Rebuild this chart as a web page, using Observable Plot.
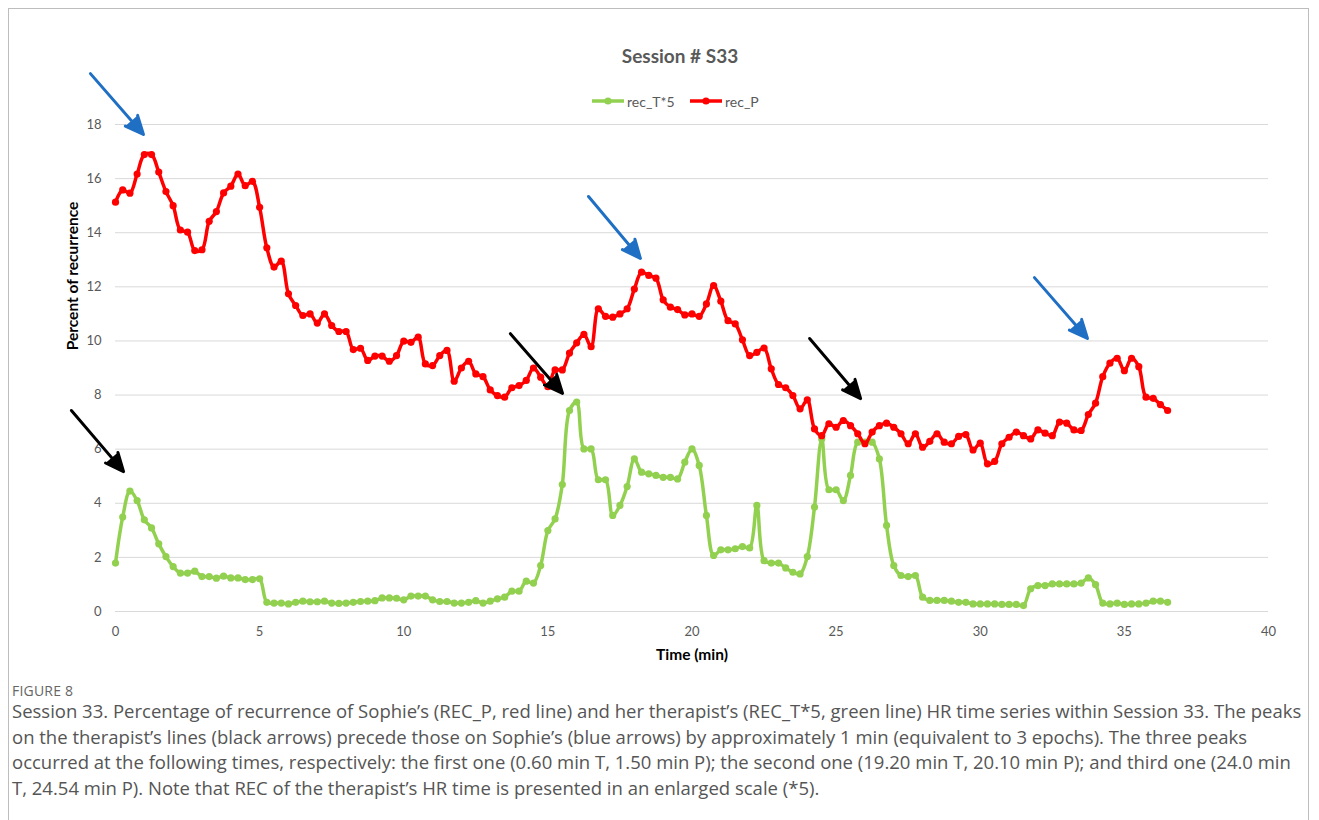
<!DOCTYPE html>
<html>
<head>
<meta charset="utf-8">
<script src="https://cdn.jsdelivr.net/npm/d3@7"></script>
<script src="https://cdn.jsdelivr.net/npm/@observablehq/plot@0.6"></script>
<style>
  body { margin: 0; background: #fff; }
  #wrap { position: relative; width: 1319px; height: 820px; overflow: hidden; background: #fff; font-family: Lato, "Open Sans", sans-serif; }
  #frame { position: absolute; left: 8px; top: 8px; width: 1301px; height: 840px; border: 1px solid #bdbdbd; box-sizing: border-box; }
  #chart { position: absolute; left: 0; top: 0; }
  #title { position: absolute; left: 0; width: 1360px; top: 44px; line-height: 24px; text-align: center; font-weight: bold; font-size: 19px; color: #595959; }
  .leg { position: absolute; top: 93px; height: 16px; display: flex; align-items: center; font-size: 14px; color: #595959; white-space: nowrap; }
  .leg svg { margin-right: 3px; }
  .axt { position: absolute; font-weight: bold; font-size: 15.5px; color: #000; white-space: nowrap; }
  #ylab { left: 72px; top: 276px; transform: translate(-50%, -50%) rotate(-90deg); }
  #xlab { left: 692px; top: 654px; transform: translate(-50%, -50%); }
  #fig { position: absolute; left: 12px; top: 681px; font-family: "Open Sans", sans-serif; font-size: 14px; color: #666; letter-spacing: 0.2px; }
  #cap { position: absolute; left: 12px; top: 698px; font-family: "Open Sans", sans-serif; font-size: 18.5px; line-height: 25.7px; color: #555; white-space: nowrap; }
</style>
</head>
<body>
<div id="wrap">
  <div id="frame"></div>
  <div id="chart"></div>
  <div id="title"></div>
  <div id="legT" class="leg" style="left:592px"></div>
  <div id="legP" class="leg" style="left:690px"></div>
  <div id="ylab" class="axt"></div>
  <div id="xlab" class="axt"></div>
  <div id="fig"></div>
  <div id="cap"></div>
</div>
<script>
// ---- data (epochs of 15 s, i.e. 0.25 min) ----
const epochMinutes = 0.25;
const recP = [15.13,15.58,15.46,16.17,16.89,16.89,16.24,15.52,15.0,14.1,14.02,13.34,13.37,14.42,14.78,15.47,15.72,16.17,15.74,15.9,14.94,13.44,12.73,12.95,11.74,
  11.31,10.94,11.0,10.66,11.0,10.57,10.35,10.35,9.68,9.73,9.28,9.44,9.44,9.25,9.46,9.99,9.95,10.14,9.15,9.09,9.46,9.65,8.51,9.0,
  9.25,8.78,8.68,8.19,7.98,7.92,8.27,8.35,8.54,9.0,8.66,8.31,8.93,8.93,9.55,9.93,10.24,9.79,11.19,10.91,10.88,11.0,11.19,11.92,
  12.54,12.42,12.32,11.52,11.25,11.16,10.96,11.0,10.91,11.37,12.05,11.47,10.75,10.63,10.04,9.46,9.58,9.74,8.97,8.39,8.27,7.98,7.49,7.82,
  6.75,6.5,6.94,6.81,7.06,6.87,6.57,6.2,6.63,6.87,6.96,6.81,6.57,6.2,6.57,6.07,6.29,6.57,6.26,6.2,6.47,6.54,5.97,6.22,
  5.46,5.55,6.2,6.44,6.63,6.5,6.38,6.71,6.59,6.5,7.0,6.96,6.71,6.69,7.28,7.7,8.68,9.18,9.36,8.9,9.36,9.05,7.92,7.88,7.65,7.43];
const recT5 = [1.79,3.49,4.45,4.1,3.39,3.09,2.5,2.03,1.66,1.42,1.42,1.49,1.29,1.29,1.23,1.31,1.24,1.24,1.18,1.18,1.21,0.34,0.31,0.31,0.28,
  0.34,0.38,0.36,0.36,0.38,0.31,0.3,0.31,0.34,0.37,0.38,0.4,0.5,0.5,0.49,0.43,0.57,0.57,0.57,0.43,0.37,0.37,0.31,0.31,
  0.34,0.4,0.31,0.38,0.47,0.53,0.75,0.75,1.12,1.05,1.7,2.99,3.42,4.69,7.43,7.74,6.01,6.01,4.87,4.87,3.55,3.92,4.62,5.64,
  5.15,5.09,5.03,4.96,4.96,4.9,5.52,6.01,5.4,3.55,2.07,2.28,2.28,2.32,2.4,2.35,3.92,1.88,1.79,1.79,1.61,1.45,1.39,2.03,
  3.86,6.38,4.5,4.5,4.1,5.03,6.26,6.26,6.26,5.64,3.18,1.7,1.33,1.29,1.33,0.53,0.41,0.41,0.41,0.38,0.34,0.34,0.28,0.28,
  0.28,0.28,0.26,0.26,0.26,0.22,0.84,0.96,0.96,1.02,1.02,1.02,1.02,1.05,1.24,0.99,0.31,0.28,0.31,0.26,0.28,0.28,0.31,0.38,0.38,0.34];
const xTicks = [0,5,10,15,20,25,30,35,40];
const yTicks = [0,2,4,6,8,10,12,14,16,18];
const seriesNames = ["rec_T*5","rec_P"];
const seriesColors = ["#92D050","#FF0000"];
// annotation arrows (data units: minutes, percent)
const blueArrows = [
  {x1:-0.87,y1:19.88,x2:0.97,y2:17.63},
  {x1:16.41,y1:15.34,x2:18.21,y2:13.05},
  {x1:31.88,y1:12.34,x2:33.72,y2:10.09}
];
const blackArrows = [
  {x1:-1.53,y1:7.43,x2:0.28,y2:5.17},
  {x1:13.70,y1:10.27,x2:15.51,y2:8.06},
  {x1:24.08,y1:10.09,x2:25.85,y2:7.87}
];
const titleText = "Session # S33";
const xLabel = "Time (min)";
const yLabel = "Percent of recurrence";
const figLabel = "FIGURE 8";
const captionLines = [
  "Session 33. Percentage of recurrence of Sophie’s (REC_P, red line) and her therapist’s (REC_T*5, green line) HR time series within Session 33. The peaks",
  "on the therapist’s lines (black arrows) precede those on Sophie’s (blue arrows) by approximately 1 min (equivalent to 3 epochs). The three peaks",
  "occurred at the following times, respectively: the first one (0.60 min T, 1.50 min P); the second one (19.20 min T, 20.10 min P); and third one (24.0 min",
  "T, 24.54 min P). Note that REC of the therapist’s HR time is presented in an enlarged scale (*5)."
];

const tData = recT5.map((v, i) => ({t: i * epochMinutes, v}));
const pData = recP.map((v, i) => ({t: i * epochMinutes, v}));

const arrowOpts = {x1: "x1", y1: "y1", x2: "x2", y2: "y2", strokeWidth: 3, headLength: 10, headAngle: 48, strokeLinejoin: "miter"};

const chart = Plot.plot({
  width: 1319, height: 680,
  marginLeft: 115, marginRight: 51, marginTop: 124, marginBottom: 69,
  x: {domain: [0, 40]},
  y: {domain: [0, 18]},
  style: {fontFamily: "Lato, 'Open Sans', sans-serif", fontSize: "13px", color: "#595959", background: "transparent", overflow: "visible"},
  marks: [
    Plot.gridY(yTicks, {stroke: "#d9d9d9", strokeOpacity: 1, strokeWidth: 1}),
    Plot.axisY({ticks: yTicks, tickSize: 0, tickPadding: 14, label: null}),
    Plot.axisX({ticks: xTicks, tickSize: 0, tickPadding: 15, label: null}),
    Plot.line(tData, {x: "t", y: "v", stroke: seriesColors[0], strokeWidth: 3.5, curve: "catmull-rom"}),
    Plot.dot(tData, {x: "t", y: "v", r: 3.6, fill: seriesColors[0]}),
    Plot.line(pData, {x: "t", y: "v", stroke: seriesColors[1], strokeWidth: 3.5, curve: "catmull-rom"}),
    Plot.dot(pData, {x: "t", y: "v", r: 3.6, fill: seriesColors[1]}),
    Plot.arrow(blueArrows, {...arrowOpts, stroke: "#1F6FC4", fill: "#1F6FC4"}),
    Plot.arrow(blackArrows, {...arrowOpts, stroke: "#000", fill: "#000"})
  ]
});
document.getElementById("chart").appendChild(chart);

document.getElementById("title").textContent = titleText;
document.getElementById("xlab").textContent = xLabel;
document.getElementById("ylab").textContent = yLabel;
document.getElementById("fig").textContent = figLabel;
document.getElementById("cap").innerHTML = captionLines.map(s => s.replace(/&/g,"&amp;")).join("<br>");

["legT","legP"].forEach((id, k) => {
  document.getElementById(id).innerHTML = `<svg width="32" height="10"><line x1="0" y1="5" x2="32" y2="5" stroke="${seriesColors[k]}" stroke-width="3.5"/><circle cx="16" cy="5" r="3.6" fill="${seriesColors[k]}"/></svg><span>${seriesNames[k]}</span>`;
});
</script>
</body>
</html>
